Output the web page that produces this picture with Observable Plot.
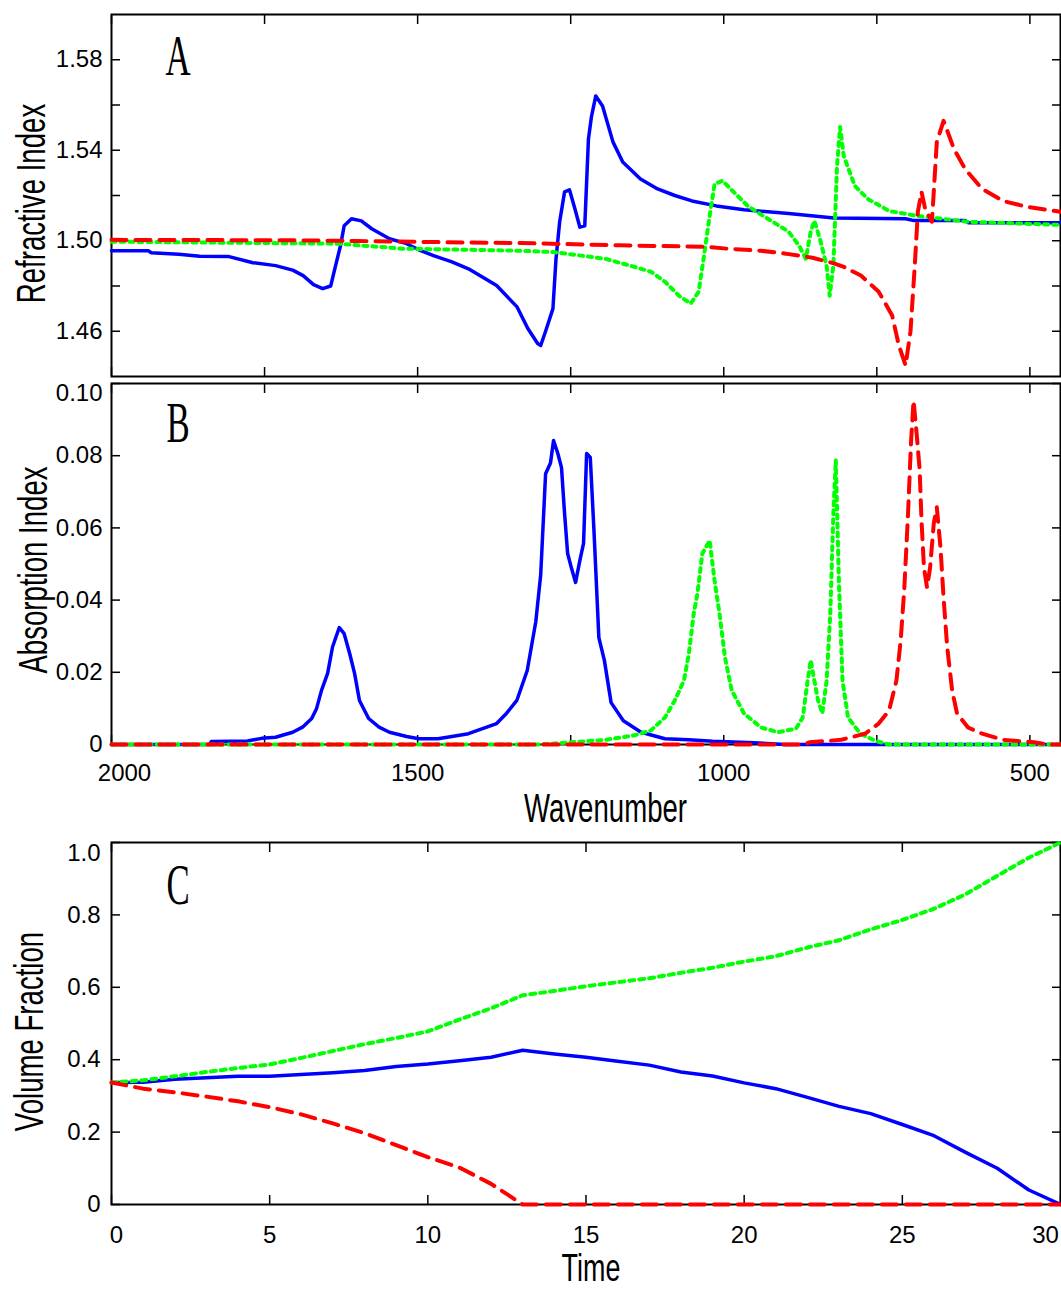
<!DOCTYPE html>
<html><head><meta charset="utf-8">
<script src="https://cdn.jsdelivr.net/npm/d3@7"></script>
<script src="https://cdn.jsdelivr.net/npm/@observablehq/plot@0.6"></script>
<style>
body{margin:0;background:#fff;}
#chart{width:1061px;height:1290px;}
#chart svg{display:block;}
</style></head><body><div id="chart"></div>
<script>
// ---------- Panel A: refractive index ----------
const blueA_wn = [2000,1940,1935,1890,1856,1808,1769,1732,1704,1687,1670,1655,1642,1634,1626,1620,1608,1592,1575,1546,1518,1498,1474,1444,1417,1371,1338,1320,1304,1299,1291,1279,1274,1268,1260,1252,1243,1235,1227,1221,1216,1209,1198,1181,1165,1136,1108,1080,1052,1012,967,894,820,703,691,606,601,450];
const blueA_n  = [1.4956,1.4956,1.4947,1.494,1.4931,1.493,1.4903,1.489,1.487,1.4846,1.4806,1.4788,1.480,1.489,1.4978,1.5066,1.5097,1.5088,1.5053,1.5009,1.4987,1.496,1.4934,1.4907,1.4876,1.4802,1.4709,1.4612,1.4546,1.4537,1.46,1.47,1.492,1.5084,1.5216,1.5225,1.514,1.506,1.5066,1.545,1.555,1.564,1.5596,1.5437,1.5348,1.5273,1.5229,1.52,1.5176,1.5154,1.5137,1.512,1.5101,1.5097,1.509,1.509,1.508,1.508];
const greenA_wn = [2000,1630,1525,1333,1278,1221,1193,1153,1119,1096,1073,1054,1041,1033,1023,1015,1002,984,961,928,894,877,866,858,852,843,832,827,821,815,810,804,786,765,730,685,601,450];
const greenA_n  = [1.4996,1.4987,1.4965,1.4956,1.495,1.493,1.492,1.489,1.4863,1.4819,1.4757,1.4722,1.4775,1.492,1.511,1.5251,1.5265,1.5216,1.5154,1.5097,1.504,1.4978,1.492,1.504,1.5088,1.5009,1.489,1.4757,1.489,1.533,1.5503,1.5375,1.5243,1.5185,1.5132,1.511,1.5084,1.507];
const redA_wn = [2000,1700,1600,1500,1333,1170,1029,995,940,899,855,820,804,776,747,725,714,703,695,688,683,677,671,660,652,641,624,606,578,544,505,450];
const redA_n  = [1.5004,1.5002,1.4999,1.4995,1.499,1.498,1.4973,1.4965,1.4956,1.4943,1.4925,1.49,1.4885,1.4846,1.4775,1.467,1.4537,1.4449,1.46,1.489,1.5128,1.5216,1.514,1.5084,1.5437,1.553,1.5406,1.5318,1.5229,1.5176,1.515,1.5128];

// ---------- Panel B: absorption index ----------
const blueB_wn = [2000,1840,1837,1778,1755,1732,1704,1688,1673,1665,1657,1647,1639,1628,1620,1611,1603,1595,1580,1563,1546,1518,1498,1467,1444,1417,1394,1371,1355,1338,1321,1307,1299,1291,1283,1278,1271,1265,1260,1255,1249,1242,1235,1229,1224,1218,1212,1204,1195,1184,1164,1135,1096,1057,1018,951,900,450];
const blueB_k  = [0,0,0.0008,0.001,0.0017,0.002,0.0034,0.0048,0.0072,0.01,0.015,0.0197,0.027,0.0324,0.0307,0.0252,0.0197,0.0122,0.0072,0.0048,0.0034,0.0022,0.0016,0.0016,0.0022,0.003,0.0044,0.0058,0.0086,0.0122,0.0205,0.034,0.047,0.075,0.078,0.0842,0.0806,0.0767,0.064,0.0529,0.049,0.0449,0.051,0.0557,0.0806,0.0795,0.0593,0.0296,0.0233,0.0116,0.0066,0.0034,0.0016,0.0013,0.0009,0.0005,0,0];
const greenB_wn = [2000,1300,1249,1193,1147,1119,1096,1080,1065,1057,1049,1043,1035,1023,1015,1007,998,987,967,939,911,882,871,863,858,852,846,839,832,826,821,817,812,806,797,777,752,730,450];
const greenB_k  = [0,0,0.0006,0.0013,0.0025,0.0039,0.0075,0.0122,0.0177,0.0252,0.0363,0.0418,0.0529,0.0565,0.0454,0.0363,0.0241,0.015,0.0086,0.0047,0.0034,0.0044,0.0075,0.0177,0.0233,0.0177,0.0122,0.0086,0.0177,0.0363,0.064,0.0787,0.0454,0.0177,0.0075,0.003,0.001,0,0];
const redB_wn = [2000,870,860,808,769,747,730,718,711,705,699,694,690,685,680,677,673,668,663,657,652,646,641,635,627,619,601,578,544,493,470,450];
const redB_k  = [0,0,0.0006,0.0013,0.003,0.0058,0.0094,0.0177,0.0288,0.0435,0.064,0.0842,0.0953,0.0862,0.076,0.062,0.049,0.0435,0.049,0.0612,0.0657,0.0546,0.0407,0.0269,0.015,0.0086,0.0047,0.003,0.0013,0.0006,0,0];

// ---------- Panel C: volume fraction ----------
const timeC  = [0,1,2,3,4,5,6,7,8,9,10,11,12,13,14,15,16,17,18,19,20,21,22,23,24,25,26,27,28,29,30];
const blueC  = [0.337,0.338,0.346,0.350,0.354,0.354,0.359,0.364,0.370,0.381,0.388,0.397,0.407,0.426,0.416,0.407,0.396,0.385,0.366,0.355,0.336,0.320,0.296,0.271,0.251,0.221,0.190,0.144,0.100,0.040,0.0];
const greenC = [0.337,0.343,0.354,0.366,0.377,0.387,0.405,0.424,0.443,0.460,0.478,0.511,0.542,0.578,0.590,0.603,0.614,0.625,0.640,0.654,0.671,0.686,0.710,0.730,0.760,0.786,0.817,0.857,0.908,0.958,1.0];
const redC   = [0.337,0.320,0.310,0.298,0.285,0.269,0.249,0.224,0.197,0.164,0.131,0.102,0.057,0,0,0,0,0,0,0,0,0,0,0,0,0,0,0,0,0,0];

// ---------- ticks ----------
const wnTicks = [2000,1750,1500,1250,1000,750,500];
const wnLabels = [1500,1000,500];
const nTicks = [1.46,1.48,1.50,1.52,1.54,1.56,1.58];
const nLabels = [1.46,1.50,1.54,1.58];
const kTicks = [0,0.02,0.04,0.06,0.08,0.10];
const vTicks = [0,0.2,0.4,0.6,0.8,1.0];
const tTicks = [0,5,10,15,20,25,30];

const rows = (xs, ys) => xs.map((x, i) => ({x, y: ys[i]}));
const BLUE = {stroke: "#0000ff", strokeWidth: 3.5};
const GREEN = {stroke: "#00ff00", strokeWidth: 4, strokeDasharray: "4,5"};
const RED = {stroke: "#ff0000", strokeWidth: 4, strokeDasharray: "15,9"};
const lineOpts = (s) => ({x: "x", y: "y", ...s});

const W = 1061, ML = 111, MR = 1, FS = 24;
const baseStyle = {fontFamily: "'Liberation Sans', Arial, sans-serif", fontSize: "24px", color: "black", background: "white"};
const TITLE_FONT = "'Liberation Sans', Arial, sans-serif";
const LETTER_FONT = "'Liberation Serif', 'Times New Roman', serif";

function frameTicks(xt, yt) {
  const o = {tickFormat: () => "", label: null, stroke: "black", strokeWidth: 1.5};
  return [
    Plot.axisY(yt, {anchor: "left", tickSize: 9, dx: 9, ...o}),
    Plot.axisY(yt, {anchor: "right", tickSize: 9, dx: -9, ...o}),
    Plot.axisX(xt, {anchor: "top", tickSize: 9, dy: 9, ...o}),
    Plot.axisX(xt, {anchor: "bottom", tickSize: 9, dy: -9, ...o})
  ];
}

// horizontally condense some texts (narrow fonts of the original)
function condense(svg, map) {
  d3.select(svg).selectAll("text").each(function () {
    const s = map[this.textContent];
    if (s == null) return;
    const t = this.getAttribute("transform") || "";
    this.setAttribute("transform", `${t} scale(${s},1)`);
  });
}
const cmap = {"A": 0.6, "B": 0.6, "C": 0.6, "Refractive Index": 0.69, "Absorption Index": 0.69,
  "Wavenumber": 0.69, "Volume Fraction": 0.69, "Time": 0.69};

const fmt2 = d3.format(".2f");
const lab = {label: null, fontSize: FS, tickSize: 0};
const ytitle = {frameAnchor: "left", rotate: -90, fontSize: 40, fontFamily: TITLE_FONT, textAnchor: "middle", lineAnchor: "middle"};
const xtitle = {frameAnchor: "bottom", fontSize: 40, fontFamily: TITLE_FONT, textAnchor: "middle", lineAnchor: "middle"};
const letter = {frameAnchor: "top-left", fontSize: 58, fontFamily: LETTER_FONT, textAnchor: "start", lineAnchor: "top"};

// Panel A
const svgA = Plot.plot({
  width: W, height: 380, marginLeft: ML, marginRight: MR, marginTop: 14, marginBottom: 4,
  style: baseStyle,
  x: {domain: [2000, 450], label: null},
  y: {domain: [1.44, 1.60], label: null},
  marks: [
    Plot.frame({stroke: "black", strokeWidth: 2}),
    ...frameTicks(wnTicks, nTicks),
    Plot.axisY(nLabels, {anchor: "left", tickPadding: 9, tickFormat: fmt2, ...lab}),
    Plot.lineY(rows(blueA_wn, blueA_n), lineOpts(BLUE)),
    Plot.lineY(rows(greenA_wn, greenA_n), lineOpts(GREEN)),
    Plot.lineY(rows(redA_wn, redA_n), lineOpts(RED)),
    Plot.text(["Refractive Index"], {...ytitle, dx: -79, dy: 8}),
    Plot.text(["A"], {...letter, dx: 54, dy: 19})
  ]
});

// Panel B
const svgB = Plot.plot({
  width: W, height: 450, marginLeft: ML, marginRight: MR, marginTop: 3, marginBottom: 86,
  style: baseStyle,
  x: {domain: [2000, 450], label: null},
  y: {domain: [0, 0.10], label: null},
  marks: [
    Plot.frame({stroke: "black", strokeWidth: 2}),
    ...frameTicks(wnTicks, kTicks),
    Plot.axisY(kTicks.slice(0, 5), {anchor: "left", tickPadding: 9, tickFormat: d => d === 0 ? "0" : fmt2(d), ...lab}),
    Plot.axisY([0.10], {anchor: "left", tickPadding: 9, dy: 10, tickFormat: fmt2, ...lab}),
    Plot.axisX(wnLabels, {anchor: "bottom", tickPadding: 19, tickFormat: d => String(d), ...lab}),
    Plot.axisX([2000], {anchor: "bottom", tickPadding: 19, dx: 13, tickFormat: d => String(d), ...lab}),
    Plot.lineY(rows(blueB_wn, blueB_k), lineOpts(BLUE)),
    Plot.lineY(rows(greenB_wn, greenB_k), lineOpts(GREEN)),
    Plot.lineY(rows(redB_wn, redB_k), lineOpts(RED)),
    Plot.text(["Absorption Index"], {...ytitle, dx: -77, dy: 6}),
    Plot.text(["Wavenumber"], {...xtitle, dx: 19.5, dy: 65}),
    Plot.text(["B"], {...letter, dx: 55, dy: 17})
  ]
});

// Panel C
const svgC = Plot.plot({
  width: W, height: 460, marginLeft: ML, marginRight: MR, marginTop: 12, marginBottom: 86,
  style: baseStyle,
  x: {domain: [0, 30], label: null},
  y: {domain: [0, 1.0], label: null},
  marks: [
    Plot.frame({stroke: "black", strokeWidth: 2}),
    ...frameTicks(tTicks, vTicks),
    Plot.axisY(vTicks.slice(0, 5), {anchor: "left", tickPadding: 11, tickFormat: d => d === 0 ? "0" : d3.format(".1f")(d), ...lab}),
    Plot.axisY([1.0], {anchor: "left", tickPadding: 11, dy: 11, tickFormat: d3.format(".1f"), ...lab}),
    Plot.axisX(tTicks.slice(1, 6), {anchor: "bottom", tickPadding: 21, tickFormat: d => String(d), ...lab}),
    Plot.axisX([0], {anchor: "bottom", tickPadding: 21, dx: 5, tickFormat: d => String(d), ...lab}),
    Plot.axisX([30], {anchor: "bottom", tickPadding: 21, dx: -15, tickFormat: d => String(d), ...lab}),
    Plot.lineY(rows(timeC, blueC), lineOpts(BLUE)),
    Plot.lineY(rows(timeC, greenC), lineOpts({...GREEN, strokeDasharray: "5,5"})),
    Plot.lineY(rows(timeC, redC), lineOpts(RED)),
    Plot.text(["Volume Fraction"], {...ytitle, dx: -81, dy: 8}),
    Plot.text(["Time"], {...xtitle, dx: 5, dy: 64, fontSize: 39}),
    Plot.text(["C"], {...letter, dx: 55, dy: 20})
  ]
});

const chart = document.getElementById("chart");
for (const s of [svgA, svgB, svgC]) { condense(s, cmap); chart.appendChild(s); }
</script>
</body></html>
